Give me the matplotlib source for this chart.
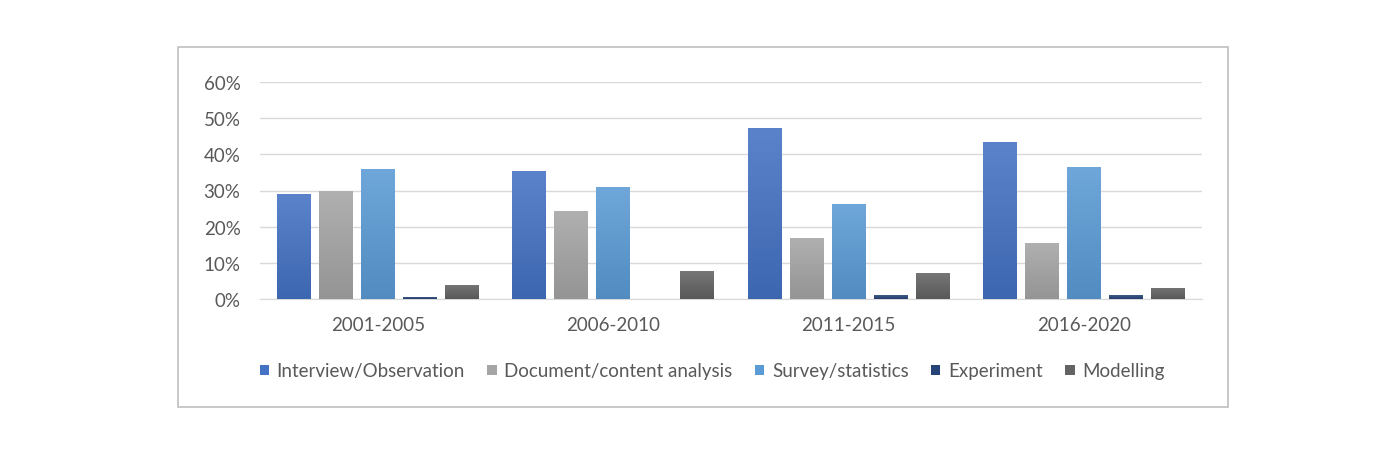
import numpy as np
import matplotlib
matplotlib.use("Agg")
import matplotlib.pyplot as plt
from matplotlib.patches import Rectangle
from matplotlib.colors import to_rgb

periods = ["2001-2005", "2006-2010", "2011-2015", "2016-2020"]
methods = ["Interview/Observation", "Document/content analysis", "Survey/statistics",
           "Experiment", "Modelling"]

interview = [0.29, 0.355, 0.474, 0.433]
document = [0.30, 0.244, 0.17, 0.154]
survey = [0.36, 0.31, 0.264, 0.365]
experiment = [0.005, 0.0, 0.011, 0.01]
modelling = [0.04, 0.077, 0.071, 0.031]

series = [interview, document, survey, experiment, modelling]
colors = ["#4472C4", "#A5A5A5", "#5B9BD5", "#264478", "#636363"]

plt.rcParams['font.family'] = ['Lato', 'DejaVu Sans']


def gradient_fill(ax, patch, color):
    # lighter top, darker bottom, like the office gradient style
    c = np.array(to_rgb(color))
    top = c + (1 - c) * 0.12
    bot = c * 0.9
    t = np.linspace(0, 1, 64)[:, None]
    img = (top * (1 - t) + bot * t)[:, None, :]
    x0, y0 = patch.get_x(), patch.get_y()
    w, h = patch.get_width(), patch.get_height()
    if h <= 0:
        return
    im = ax.imshow(img, extent=[x0, x0 + w, y0, y0 + h], aspect="auto",
                   origin="upper", zorder=3, interpolation="bilinear")
    im.set_clip_path(patch)


fig = plt.figure(figsize=(13.9, 4.64), dpi=100)
fig.patches.append(Rectangle((178 / 1390, 1 - 408 / 464), 1050 / 1390, 360 / 464,
                             transform=fig.transFigure, fill=False,
                             edgecolor="#BFBFBF", linewidth=1.2))

ax = fig.add_axes([260 / 1390, 1 - 300 / 464, 942 / 1390, 217 / 464])

x = np.arange(len(periods))
step = 0.178
width = 0.144
for i, (vals, col, name) in enumerate(zip(series, colors, methods)):
    offs = (i - 2) * step
    bars = ax.bar(x + offs, vals, width, color=col, label=name, zorder=3)
    for p in bars:
        gradient_fill(ax, p, col)

ax.set_xlim(-0.5, 3.5)
ax.set_ylim(0, 0.6)
ax.set_yticks(np.arange(0, 0.61, 0.1))
ax.set_yticklabels([f"{int(round(v * 100))}%" for v in np.arange(0, 0.61, 0.1)])
ax.set_xticks(x)
ax.set_xticklabels(periods)
ax.grid(axis="y", color="#D9D9D9", linewidth=1, zorder=0)
for s in ["top", "right", "left"]:
    ax.spines[s].set_visible(False)
ax.spines["bottom"].set_color("#D9D9D9")
ax.tick_params(axis="both", length=0, labelsize=13.5, colors="#595959")
ax.tick_params(axis="y", pad=14)
ax.tick_params(axis="x", pad=12)

handles, labels = ax.get_legend_handles_labels()
fig.legend(handles, labels, loc="center", bbox_to_anchor=(712 / 1390, 1 - 372 / 464),
           ncol=5, frameon=False, fontsize=13.5, handlelength=0.5, handleheight=0.5,
           handletextpad=0.4, columnspacing=1.2, labelcolor="#595959")

fig.savefig("out.png", dpi=100, facecolor="white")
